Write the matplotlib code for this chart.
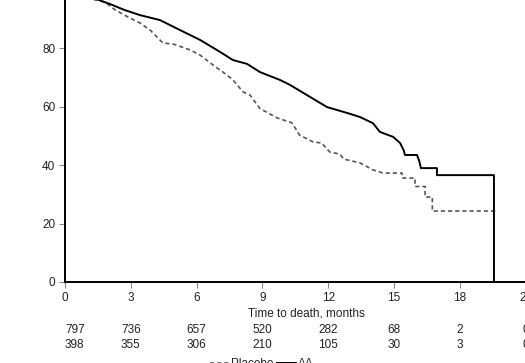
import matplotlib.pyplot as plt
from matplotlib.transforms import blended_transform_factory

plt.rcParams['font.family'] = ['Liberation Sans', 'DejaVu Sans']
plt.rcParams['font.size'] = 8

# Kaplan-Meier curves (months, % alive);
# dense early events drawn as a line, late steps given as corner points
aa_t = [0, 1.0, 1.46, 2.05, 2.7, 3.42, 4.33, 5.24, 6.16, 7.07, 7.66, 8.30, 8.89,
        9.80, 10.26, 11.17, 11.95, 12.86, 13.45, 14.04, 14.36, 14.96, 15.28,
        15.45, 15.5, 16.05, 16.15, 16.23, 16.96, 16.96, 19.56, 19.56]
aa_s = [100, 98.5, 96.8, 95.2, 93.2, 91.4, 89.7, 86.3, 82.9, 78.8, 76.0, 74.7, 71.9,
        69.2, 67.5, 63.4, 59.9, 57.9, 56.5, 54.4, 51.4, 49.7, 47.6,
        45.0, 43.5, 43.5, 41.5, 39.0, 39.0, 36.6, 36.6, 0]

pl_t = [0, 1.0, 1.37, 1.82, 2.28, 2.96, 3.42, 3.88, 4.47, 4.93, 5.70, 6.16, 6.75,
        7.20, 7.66, 8.12, 8.44, 8.89, 9.67, 10.35, 10.70, 11.30, 11.70, 12.08,
        12.54, 12.70, 13.45, 14.04, 14.50, 15.37, 15.37, 15.96, 15.96, 16.42,
        16.42, 16.75, 16.75, 19.74]
pl_s = [100, 98.2, 96.6, 95.9, 93.2, 90.4, 88.7, 86.3, 81.8, 81.5, 79.5, 77.7, 74.3,
        71.9, 69.2, 65.1, 64.0, 59.4, 56.2, 54.5, 50.3, 48.0, 47.6, 44.5,
        43.8, 42.1, 40.8, 38.4, 37.3, 37.3, 35.6, 35.6, 32.7, 32.7,
        29.1, 29.1, 24.3, 24.3]

ticks = [0, 3, 6, 9, 12, 15, 18, 21]
risk_aa = [797, 736, 657, 520, 282, 68, 2, 0]
risk_pl = [398, 355, 306, 210, 105, 30, 3, 0]

W, H = 525, 363
fig = plt.figure(figsize=(W / 100, H / 100), dpi=100)
px = 21.93   # pixels per month
py = 2.92    # pixels per percent
x0, y0 = 65, 282
ax = fig.add_axes([x0 / W, (H - y0) / H, 22 * px / W, 100 * py / H])

ax.plot(pl_t, pl_s, color='#555555', lw=1.2,
        linestyle=(0, (2.5, 1.8)), label='Placebo')
ax.plot(aa_t, aa_s, color='black', lw=1.4, label='AA')

ax.set_xlim(0, 22)
ax.set_ylim(0, 100)
ax.set_xticks(ticks)
ax.set_yticks([0, 20, 40, 60, 80])
for s in ['top', 'right']:
    ax.spines[s].set_visible(False)
for s in ['left', 'bottom']:
    ax.spines[s].set_linewidth(1.4)
    ax.spines[s].set_color('black')
ax.tick_params(length=4, width=0.8, color='#888888', labelcolor='#222222',
               labelsize=8.5, pad=3)
ax.set_xlabel('Time to death, months', color='#222222', fontsize=8.5, labelpad=3)

tr = blended_transform_factory(ax.transData, fig.transFigure)
for row, ypix in [(risk_aa, 330), (risk_pl, 345)]:
    for i, (t, n) in enumerate(zip(ticks, row)):
        ha = 'left' if i == 0 else 'center'
        ax.text(t, 1 - ypix / H, str(n), transform=tr, ha=ha, va='center',
                color='#222222', fontsize=8.5, clip_on=False)

fig.legend(loc='center', bbox_to_anchor=(262 / W, 1 - 364 / H), ncol=2,
           frameon=False, fontsize=8.5, handlelength=1.6, handletextpad=0.2,
           columnspacing=0.3, labelcolor='#222222')

fig.savefig('out.png', dpi=100)
